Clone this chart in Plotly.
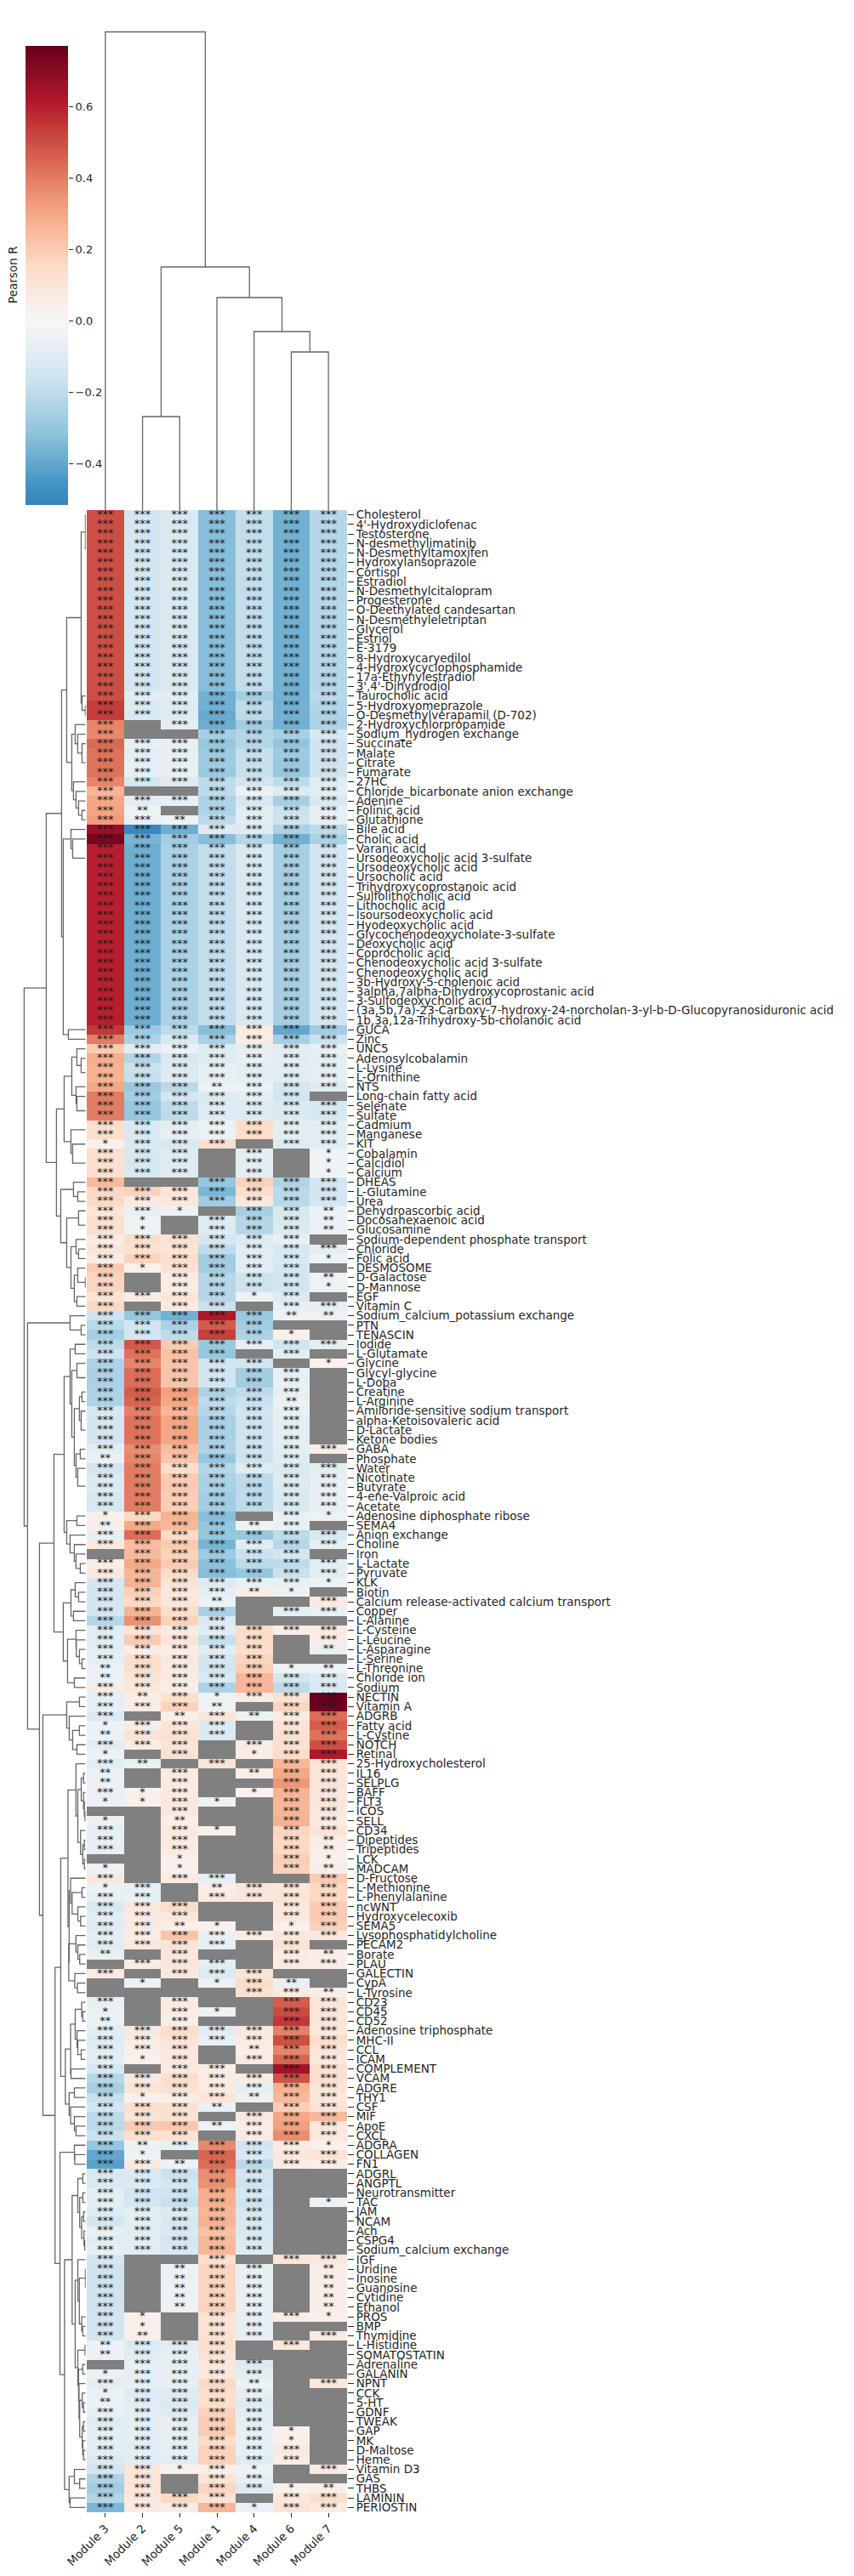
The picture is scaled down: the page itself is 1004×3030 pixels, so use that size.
import plotly.graph_objects as go

module_labels = ["Module 3", "Module 2", "Module 5", "Module 1", "Module 4", "Module 6", "Module 7"]

row_labels = [
    "Cholesterol", "4'-Hydroxydiclofenac", "Testosterone", "N-desmethylimatinib", "N-Desmethyltamoxifen",
    "Hydroxylansoprazole", "Cortisol", "Estradiol", "N-Desmethylcitalopram", "Progesterone",
    "O-Deethylated candesartan", "N-Desmethyleletriptan", "Glycerol", "Estriol", "E-3179",
    "8-Hydroxycaryedilol", "4-Hydroxycyclophosphamide", "17a-Ethynylestradiol", "3',4'-Dihydrodiol", "Taurocholic acid",
    "5-Hydroxyomeprazole", "O-Desmethylverapamil (D-702)", "2-Hydroxychlorpropamide", "Sodium_hydrogen exchange", "Succinate",
    "Malate", "Citrate", "Fumarate", "27HC", "Chloride_bicarbonate anion exchange",
    "Adenine", "Folinic acid", "Glutathione", "Bile acid", "Cholic acid",
    "Varanic acid", "Ursodeoxycholic acid 3-sulfate", "Ursodeoxycholic acid", "Ursocholic acid", "Trihydroxycoprostanoic acid",
    "Sulfolithocholic acid", "Lithocholic acid", "Isoursodeoxycholic acid", "Hyodeoxycholic acid", "Glycochenodeoxycholate-3-sulfate",
    "Deoxycholic acid", "Coprocholic acid", "Chenodeoxycholic acid 3-sulfate", "Chenodeoxycholic acid", "3b-Hydroxy-5-cholenoic acid",
    "3alpha,7alpha-Dihydroxycoprostanic acid", "3-Sulfodeoxycholic acid",
    "(3a,5b,7a)-23-Carboxy-7-hydroxy-24-norcholan-3-yl-b-D-Glucopyranosiduronic acid",
    "1b,3a,12a-Trihydroxy-5b-cholanoic acid", "GUCA",
    "Zinc", "UNC5", "Adenosylcobalamin", "L-Lysine", "L-Ornithine",
    "NTS", "Long-chain fatty acid", "Selenate", "Sulfate", "Cadmium",
    "Manganese", "KIT", "Cobalamin", "Calcidiol", "Calcium",
    "DHEAS", "L-Glutamine", "Urea", "Dehydroascorbic acid", "Docosahexaenoic acid",
    "Glucosamine", "Sodium-dependent phosphate transport", "Chloride", "Folic acid", "DESMOSOME",
    "D-Galactose", "D-Mannose", "EGF", "Vitamin C", "Sodium_calcium_potassium exchange",
    "PTN", "TENASCIN", "Iodide", "L-Glutamate", "Glycine",
    "Glycyl-glycine", "L-Dopa", "Creatine", "L-Arginine", "Amiloride-sensitive sodium transport",
    "alpha-Ketoisovaleric acid", "D-Lactate", "Ketone bodies", "GABA", "Phosphate",
    "Water", "Nicotinate", "Butyrate", "4-ene-Valproic acid", "Acetate",
    "Adenosine diphosphate ribose", "SEMA4", "Anion exchange", "Choline", "Iron",
    "L-Lactate", "Pyruvate", "KLK", "Biotin", "Calcium release-activated calcium transport",
    "Copper", "L-Alanine", "L-Cysteine", "L-Leucine", "L-Asparagine",
    "L-Serine", "L-Threonine", "Chloride ion", "Sodium", "NECTIN",
    "Vitamin A", "ADGRB", "Fatty acid", "L-Cystine", "NOTCH",
    "Retinal", "25-Hydroxycholesterol", "IL16", "SELPLG", "BAFF",
    "FLT3", "ICOS", "SELL", "CD34", "Dipeptides",
    "Tripeptides", "LCK", "MADCAM", "D-Fructose", "L-Methionine",
    "L-Phenylalanine", "ncWNT", "Hydroxycelecoxib", "SEMA5", "Lysophosphatidylcholine",
    "PECAM2", "Borate", "PLAU", "GALECTIN", "CypA",
    "L-Tyrosine", "CD23", "CD45", "CD52", "Adenosine triphosphate",
    "MHC-II", "CCL", "ICAM", "COMPLEMENT", "VCAM",
    "ADGRE", "THY1", "CSF", "MIF", "ApoE",
    "CXCL", "ADGRA", "COLLAGEN", "FN1", "ADGRL",
    "ANGPTL", "Neurotransmitter", "TAC", "JAM", "NCAM",
    "Ach", "CSPG4", "Sodium_calcium exchange", "IGF", "Uridine",
    "Inosine", "Guanosine", "Cytidine", "Ethanol", "PROS",
    "BMP", "Thymidine", "L-Histidine", "SOMATOSTATIN", "Adrenaline",
    "GALANIN", "NPNT", "CCK", "5-HT", "GDNF",
    "TWEAK", "GAP", "MK", "D-Maltose", "Heme",
    "Vitamin D3", "GAS", "THBS", "LAMININ", "PERIOSTIN",
]

N = None

# Pearson R per row, columns in the order of module_labels; None marks a non-significant cell.
pearson_r = [
    [.50, -.14, -.12, -.33, -.19, -.37, -.22], [.50, -.14, -.12, -.33, -.19, -.37, -.22],
    [.50, -.14, -.12, -.33, -.19, -.37, -.22], [.50, -.14, -.12, -.33, -.19, -.37, -.22],
    [.50, -.14, -.12, -.33, -.19, -.37, -.22], [.50, -.14, -.12, -.33, -.19, -.37, -.22],
    [.50, -.14, -.12, -.33, -.19, -.37, -.22], [.50, -.14, -.12, -.33, -.19, -.37, -.22],
    [.50, -.14, -.12, -.33, -.19, -.37, -.22], [.50, -.14, -.12, -.33, -.19, -.37, -.22],
    [.50, -.14, -.12, -.33, -.19, -.37, -.22], [.50, -.14, -.12, -.33, -.19, -.37, -.22],
    [.50, -.14, -.12, -.33, -.19, -.37, -.22], [.50, -.14, -.12, -.33, -.19, -.37, -.22],
    [.50, -.14, -.12, -.33, -.19, -.37, -.22], [.50, -.14, -.12, -.33, -.19, -.37, -.22],
    [.50, -.14, -.12, -.33, -.19, -.37, -.22], [.50, -.14, -.12, -.33, -.19, -.37, -.22],
    [.50, -.14, -.12, -.33, -.19, -.37, -.22],
    [.50, -.09, -.09, -.37, -.26, -.37, -.21],
    [.54, -.11, -.10, -.37, -.20, -.37, -.23],
    [.54, -.12, -.10, -.39, -.20, -.37, -.24],
    [.38, N, -.08, -.38, -.27, -.37, -.24],
    [.37, N, N, -.26, -.23, -.26, -.13],
    [.44, -.06, -.06, -.30, -.22, -.31, -.16],
    [.42, -.08, -.07, -.28, -.18, -.28, -.16],
    [.42, -.07, -.06, -.28, -.18, -.29, -.16],
    [.42, -.07, -.06, -.29, -.18, -.30, -.16],
    [.38, -.14, -.10, -.20, -.15, -.20, -.09],
    [.26, N, N, -.20, -.05, -.11, -.08],
    [.30, -.09, -.07, -.24, -.13, -.26, -.12],
    [.31, -.04, N, -.24, -.09, -.17, -.07],
    [.33, -.06, -.04, -.20, -.09, -.16, -.07],
    [.67, -.50, -.38, -.10, -.10, -.25, -.20],
    [.73, -.36, -.27, -.33, -.22, -.37, -.25],
    [.60, -.38, -.25, -.19, -.12, -.26, -.14], [.60, -.38, -.25, -.19, -.12, -.26, -.14],
    [.60, -.38, -.25, -.19, -.12, -.26, -.14], [.60, -.38, -.25, -.19, -.12, -.26, -.14],
    [.60, -.38, -.25, -.19, -.12, -.26, -.14], [.60, -.38, -.25, -.19, -.12, -.26, -.14],
    [.60, -.38, -.25, -.19, -.12, -.26, -.14], [.60, -.38, -.25, -.19, -.12, -.26, -.14],
    [.60, -.38, -.25, -.19, -.12, -.26, -.14], [.60, -.38, -.25, -.19, -.12, -.26, -.14],
    [.60, -.38, -.25, -.19, -.12, -.26, -.14], [.60, -.38, -.25, -.19, -.12, -.26, -.14],
    [.60, -.38, -.25, -.19, -.12, -.26, -.14], [.60, -.38, -.25, -.19, -.12, -.26, -.14],
    [.60, -.38, -.25, -.19, -.12, -.26, -.14], [.60, -.38, -.25, -.19, -.12, -.26, -.14],
    [.60, -.38, -.25, -.19, -.12, -.26, -.14], [.60, -.38, -.25, -.19, -.12, -.26, -.14],
    [.60, -.38, -.25, -.19, -.12, -.26, -.14],
    [.55, -.28, -.20, -.33, .07, -.40, -.27],
    [.40, -.24, -.12, -.25, .06, -.26, -.17],
    [.20, -.09, -.05, -.10, -.07, -.09, -.06],
    [.28, -.23, -.13, -.10, -.06, -.09, -.08],
    [.27, -.17, -.10, -.07, -.08, -.09, -.07],
    [.27, -.18, -.10, -.07, -.08, -.09, -.07],
    [.30, -.29, -.21, -.04, -.05, -.14, -.10],
    [.40, -.27, -.15, -.11, -.08, -.15, N],
    [.40, -.30, -.20, -.10, -.10, -.11, -.13],
    [.40, -.30, -.20, -.10, -.10, -.11, -.13],
    [.13, -.12, -.08, -.05, .15, -.08, -.08],
    [.13, -.12, -.07, -.05, .14, -.08, -.08],
    [.04, -.12, -.12, .13, N, -.10, -.09],
    [.13, -.13, -.10, N, -.08, N, -.03],
    [.13, -.13, -.10, N, -.08, N, -.03],
    [.13, -.13, -.10, N, -.08, N, -.03],
    [.25, N, N, -.30, .18, -.24, -.14],
    [.16, .18, .10, -.35, .14, -.21, -.14],
    [.16, .07, .08, -.27, .08, -.21, -.14],
    [.10, -.06, -.04, N, -.26, -.13, -.05],
    [.13, -.04, N, -.10, -.22, -.12, -.05],
    [.13, -.04, N, -.10, -.22, -.11, -.05],
    [.06, .14, .12, -.14, -.10, -.07, N],
    [.10, .13, .11, -.20, -.09, -.13, -.08],
    [.06, .18, .14, -.27, -.09, -.12, -.04],
    [.20, .04, .12, -.27, -.09, -.14, N],
    [.17, N, .06, -.22, -.16, -.14, -.05],
    [.17, N, .06, -.22, -.16, -.14, -.04],
    [.11, .06, .10, -.22, -.04, -.11, N],
    [.16, N, .07, -.17, N, -.07, -.07],
    [-.16, -.30, -.37, .62, -.29, -.05, -.05],
    [-.21, -.15, -.25, .47, -.27, N, N],
    [-.26, -.14, -.20, .53, -.24, .04, N],
    [-.20, .48, .20, -.29, -.07, -.15, -.08],
    [-.16, .42, .23, -.30, N, -.08, N],
    [-.24, .38, .22, -.15, -.15, N, .04],
    [-.25, .43, .22, -.15, -.27, -.07, N],
    [-.25, .43, .22, -.15, -.27, -.06, N],
    [-.24, .47, .32, -.24, -.20, -.07, N],
    [-.24, .45, .30, -.20, -.17, -.05, N],
    [-.13, .39, .26, -.22, -.15, -.07, N],
    [-.14, .42, .30, -.25, -.16, -.08, N],
    [-.14, .42, .30, -.25, -.16, -.08, N],
    [-.14, .42, .30, -.25, -.16, -.08, N],
    [-.08, .36, .24, -.24, -.16, -.08, .05],
    [-.05, .38, .22, -.30, -.16, -.09, N],
    [-.15, .40, .14, -.22, -.10, -.12, -.08],
    [-.11, .40, .20, -.25, -.20, -.11, -.06],
    [-.11, .40, .20, -.25, -.20, -.11, -.06],
    [-.13, .40, .19, -.27, -.20, -.12, -.06],
    [-.13, .40, .19, -.27, -.20, -.12, -.06],
    [.04, .16, .27, -.33, N, -.06, -.04],
    [.05, .30, .25, -.30, -.04, -.06, N],
    [-.07, .43, .15, -.30, -.30, -.20, -.12],
    [.08, .24, .20, -.36, -.09, -.22, -.07],
    [N, .25, .18, -.28, -.17, -.14, N],
    [.05, .30, .20, -.32, -.21, -.20, -.08],
    [.08, .26, .15, -.33, -.30, -.17, -.08],
    [-.14, .27, .11, -.10, -.06, -.06, -.04],
    [-.14, .19, .08, -.07, .05, -.04, N],
    [-.14, .16, .10, -.05, N, N, .07],
    [-.14, .27, .14, -.25, N, -.07, -.06],
    [-.22, .35, .18, -.11, N, N, N],
    [-.09, .11, .07, -.09, .15, .05, .07],
    [-.09, .20, .10, -.18, .15, N, .06],
    [-.08, .07, .05, -.09, .14, N, -.06],
    [-.07, .14, .08, -.14, .17, N, N],
    [-.05, .14, .07, -.15, .19, -.04, -.04],
    [-.05, .10, .07, -.12, .26, -.14, -.10],
    [.06, .09, .05, -.24, .26, -.20, -.12],
    [-.07, .05, .13, -.04, .06, .12, .77],
    [-.07, .06, .18, -.04, N, .17, .76],
    [-.11, N, .05, .10, -.05, .07, .43],
    [-.04, .06, .10, -.11, N, .11, .47],
    [-.05, .11, .12, -.11, N, .12, .42],
    [-.09, .06, .10, N, .06, .12, .50],
    [-.05, N, .12, N, .05, .15, .62],
    [-.09, -.06, N, .10, N, .26, .11],
    [-.05, N, .07, N, .05, .30, .10],
    [-.05, N, .07, N, N, .34, .10],
    [-.06, .04, .07, N, .04, .27, .08],
    [-.05, .04, .08, -.04, N, .26, .10],
    [N, N, .08, N, N, .26, .08],
    [-.05, N, .05, N, N, .27, .07],
    [-.07, N, .07, .04, N, .17, .11],
    [-.07, N, .07, N, N, .16, .05],
    [-.07, N, .07, N, N, .16, .05],
    [N, N, .04, N, N, .19, .04],
    [-.05, N, .04, N, N, .18, .05],
    [.08, N, .07, -.07, N, N, .20],
    [-.05, -.06, N, .05, .10, .09, .16],
    [-.07, -.06, N, .07, .09, .10, .16],
    [-.12, .09, .15, N, N, .08, .20],
    [-.08, .07, .08, N, N, .09, .20],
    [-.10, .07, .05, .04, N, .04, .18],
    [-.08, .06, .22, -.06, .06, .08, .08],
    [-.09, .08, .11, -.07, N, .11, N],
    [-.06, N, .09, N, N, .06, .05],
    [N, .06, .10, -.08, N, .07, .05],
    [.07, N, .08, -.11, .11, N, N],
    [N, -.05, N, -.05, .15, -.06, N],
    [N, N, N, N, .12, .07, .05],
    [-.06, N, .07, N, N, .47, .10],
    [-.05, N, .07, -.05, N, .51, .10],
    [-.05, N, .05, N, N, .55, .10],
    [-.08, .08, .15, -.09, .08, .39, .09],
    [-.10, .07, .11, -.06, .07, .50, .14],
    [-.09, .05, .09, N, .05, .38, .10],
    [-.08, .04, .08, N, .07, .45, .08],
    [-.13, N, .07, .05, N, .65, .12],
    [-.22, .08, .14, .05, .06, .49, .13],
    [-.26, .11, .12, .07, -.07, .27, .10],
    [-.18, .04, .05, .10, -.05, .25, .09],
    [-.14, .14, .12, -.05, N, .19, .11],
    [-.20, .11, .12, N, .08, .30, .25],
    [-.21, .20, .21, -.05, .05, .32, .09],
    [-.17, .13, .12, N, .07, .36, .08],
    [-.30, -.05, -.07, .37, -.15, .07, .04],
    [-.40, -.04, N, .45, -.12, .09, .11],
    [-.42, .08, -.05, .43, -.21, .06, .05],
    [-.13, -.12, -.17, .36, -.15, N, N],
    [-.12, -.11, -.14, .35, -.16, N, N],
    [-.08, -.15, -.16, .28, -.13, N, N],
    [-.08, -.14, -.18, .28, -.16, N, -.05],
    [-.10, -.08, -.11, .26, -.13, N, N],
    [-.14, -.08, -.13, .27, -.13, N, N],
    [-.07, -.09, -.12, .23, -.12, N, N],
    [-.09, -.09, -.14, .25, -.11, N, N],
    [-.07, -.09, -.12, .26, -.10, N, N],
    [-.14, N, N, .13, N, .10, .08],
    [-.16, N, -.05, .17, -.06, N, .05],
    [-.16, N, -.05, .17, -.06, N, .05],
    [-.16, N, -.05, .17, -.06, N, .05],
    [-.16, N, -.05, .17, -.06, N, .05],
    [-.16, N, -.05, .18, -.06, N, .05],
    [-.15, .04, N, .11, -.07, .06, .04],
    [-.15, .04, N, .11, -.07, N, N],
    [-.15, .05, N, .12, -.07, N, .07],
    [-.05, -.11, -.09, .13, N, .09, N],
    [-.05, -.09, -.07, .11, N, N, N],
    [N, -.06, -.07, .08, -.10, N, N],
    [-.05, -.07, -.07, .09, -.08, N, N],
    [-.08, -.07, -.07, .16, -.05, N, .09],
    [-.05, -.10, -.10, .14, -.07, N, N],
    [-.05, -.09, -.11, .14, -.10, N, N],
    [-.07, -.08, -.10, .18, -.08, N, N],
    [-.10, -.08, -.07, .19, -.08, N, N],
    [-.08, -.08, -.07, .20, -.07, .04, N],
    [-.08, -.08, -.07, .15, -.07, .04, N],
    [-.09, -.08, -.07, .18, -.07, .08, N],
    [-.11, -.09, -.09, .18, -.10, .06, N],
    [-.15, .10, .04, .05, -.04, N, .07],
    [-.24, .11, N, .11, -.07, N, N],
    [-.27, .10, N, .17, -.10, .04, .05],
    [-.23, .08, .16, .11, N, .08, .14],
    [-.35, .07, .06, .26, -.05, .11, .07],
]

# Number of asterisks per cell, one digit per module; 0 leaves the cell empty.
star_counts = [
    "3333333", "3333333", "3333333", "3333333", "3333333", "3333333", "3333333", "3333333", "3333333", "3333333",
    "3333333", "3333333", "3333333", "3333333", "3333333", "3333333", "3333333", "3333333", "3333333", "3333333",
    "3333333", "3333333", "3033333", "3003333", "3333333", "3333333", "3333333", "3333333", "3333333", "3003333",
    "3333333", "3203333", "3323333", "3333333", "3333333", "3333333", "3333333", "3333333", "3333333", "3333333",
    "3333333", "3333333", "3333333", "3333333", "3333333", "3333333", "3333333", "3333333", "3333333", "3333333",
    "3333333", "3333333", "3333333", "3333333", "3333333", "3333333", "3333333", "3333333", "3333333", "3333333",
    "3332333", "3333330", "3333333", "3333333", "3333333", "3333333", "1333033", "3330301", "3330301", "3330301",
    "3003333", "3333333", "3333333", "3310332", "3103332", "3103332", "3333330", "3333333", "3333331", "3133330",
    "3033332", "3033331", "3333130", "3033033", "3333322", "3333300", "3333310", "3333333", "3333030", "3333301",
    "3333330", "3333330", "3333330", "3333320", "3333330", "3333330", "3333330", "3333330", "3333333", "2333330",
    "3333333", "3333333", "3333333", "3333333", "3333333", "1333031", "2333230", "3333333", "3333333", "0333330",
    "3333333", "3333333", "3333331", "3333210", "3332003", "3333033", "3333000", "3333333", "3333303", "3333302",
    "3333300", "2333312", "2333333", "3333333", "3231333", "3332033", "3023233", "1333033", "2333033", "3330333",
    "1030133", "3203033", "2030233", "2030033", "3130133", "1131033", "0030033", "1020033", "3031033", "3030032",
    "3030032", "0010031", "1010032", "3033003", "1302333", "3303333", "3330033", "3330033", "3321013", "3333333",
    "3333030", "2030032", "0333033", "3033300", "0101320", "0000332", "3030033", "1031033", "2030033", "3333333",
    "3333333", "3330233", "3130333", "3033033", "3333333", "3333333", "3133233", "3332033", "3330333", "3332333",
    "3330333", "3233331", "3103333", "3323333", "3333300", "3333300", "3333300", "3333301", "3333300", "3333300",
    "3333300", "3333300", "3333300", "3003033", "3023302", "3023302", "3023302", "3023302", "3023302", "3103331",
    "3103300", "3203303", "2333030", "2333000", "0333300", "1333300", "3333203", "1333300", "2333300", "3333300",
    "3333300", "3333310", "3333310", "3333330", "3333330", "3313103", "3303300", "3303312", "3333033", "3333133",
]

# Colour-bar ticks and the data range shown on it.
r_min, r_max = -0.516, 0.77
cbar_ticks = [-0.4, -0.2, 0.0, 0.2, 0.4, 0.6]

# Merge trees: (distance, upper child, lower child). An integer child is that
# many neighbouring leaves joined at distance zero.
column_tree = (562.5, 1, (286, (110, 1, 1), (250, 1, (210, 1, (186, 1, 1)))))


def comb(n):
    """n leaves joined one after another at distance zero."""
    return 1 if n == 1 else (0, 1, comb(n - 1))


steroids = (5.3, (0.3, 1, (0, 1, (0, 1, 16))), (4.3, 1, (0.3, 1, 1)))
organic_acids = (16.3, (12.3, 1, (9.3, 1, (4.3, 1, 3))), (14.3, 1, (11.3, 1, (8.3, 1, (4.3, 1, 1)))))
bile_acids = (17.3, 1, (15.3, 1, comb(19)))
guca_zinc = (20.3, 1, 1)
upper_metabolites = (28.3, (22.3, steroids, organic_acids), (26.3, bile_acids, guca_zinc))

cofactors = (25.3,
             (16.3, (10.3, 1, (5.3, 1, 2)), (11.3, 1, (10.3, 1, 2))),
             (17.3, 2, (15.3, 1, 3)))
sugars_and_more = (29.3,
                   (14.3, 1, (9.3, 1, 1)),
                   (22.3, (8.3, 1, 2),
                    (17.3, (11.3, 1, (8.3, 1, 1)),
                     (13.3, (9.3, 1, (0.3, 1, 1)), (10.3, 1, 1)))))
metabolites = (46.3, upper_metabolites, (34.3, cofactors, sugars_and_more))

exchange_ptn = (18.3, 1, (5.3, 1, 1))

iodide_to_acetate = (18.3, (12.3, 1, 1),
                     (16.3, (10.3, 1, 2),
                      (13.3, (7.3, (4.3, 1, 1), (5.3, 1, 3)),
                       (11.3, (6.3, 1, 1), (9.3, 1, comb(4))))))
ribose_to_pyruvate = (22.3, (10.3, 1, 1), (18.3, 1, (13.3, 1, (11.3, 1, (6.3, 1, 1)))))
klk_to_alanine = (17.3, (12.3, 1, (8.3, 1, 1)), (14.3, 1, 1))
cysteine_to_sodium = (21.3, (11.3, 1, (11.0, 1, (7.3, 1, (4.3, 1, 1)))), (13.3, 1, 1))
module2_group = (37.3, (25.3, iodide_to_acetate, ribose_to_pyruvate), (26.3, klk_to_alanine, cysteine_to_sodium))

nectin_group = (22.3, (7.3, 1, 1), (19.3, 1, (15.3, (7.3, 1, 1), (10.3, 1, 1))))
lymphocyte_group = (11.4, 1, (9.2,
                              (5.2, (2.5, 1, 1), (2.5, 1, (1.5, 1, (0.7, 1, 1)))),
                              (6.0, 1, (3.4, (1.5, 1, 1), (1.5, 1, 1)))))
fructose_group = (17.7, 1, (15.9, (4.3, 1, 1), (9.2, 1, (6.0, 1, 1))))
lyso_group = (19.9, (11.4, 1, (9.2, 1, (7.0, 1, 1))), (12.8, 1, (9.6, 1, 1)))
immune_left = (20.8, lymphocyte_group, (19.4, fructose_group, lyso_group))
cd_group = (17.7,
            (12.3, (4.7, 1, (3.4, 1, 1)), (10.1, 1, (9.2, 1, (5.2, 1, 1)))),
            (17.2, 1, 1))
adgre_group = (19.4, (13.2, 1, 1), (17.7, 1, (13.2, 1, (11.4, 1, 1))))
immune = (29.3, immune_left, (23.9, cd_group, adgre_group))

adgra_group = (13.2, 1, (12.8, 1, 1))
adgrl_group = (9.2, (3.4, 1, 1), (7.0, (3.4, 1, 1), (4.7, (2.5, 1, 1), (2.0, 1, (1.0, 1, 1)))))
igf_group = (9.2, 1, (7.4, (0.3, 1, comb(4)), (4.7, 1, (3.4, 1, 1))))
histidine_group = (9.2, (0.7, 1, 1),
                   (8.3, (3.4, 1, 1),
                    (7.8, 1, (7.0, (4.0, 1, (2.5, 1, 1)),
                              (4.0, (2.5, 1, 1), (3.4, 1, (2.5, 1, 1)))))))
module1_group = (24.8,
                 (15.9, adgrl_group, (12.3, igf_group, histidine_group)),
                 (19.4, (13.2, 1, (7.0, 1, 1)), (18.2, 1, 1)))
matrix_group = (36.0, immune, (30.2, adgra_group, module1_group))

row_tree = (72.3, metabolites,
            (68.3, exchange_ptn,
             (54.3, module2_group, (50.3, nectin_group, matrix_group))))

# Page geometry in pixels.
PAGE_W, PAGE_H = 1004, 3030
HEAT_L, HEAT_R, HEAT_T, HEAT_B = 102, 408, 600, 2955
ROW_DENDRO_R = 100.7
COL_DENDRO_T = 30
CBAR_L, CBAR_R, CBAR_T, CBAR_B = 30, 80, 54, 594
TEXT = "#262626"
STARS = "#1a1a1a"
TREE = "#666666"
TREE_WIDTH = 1.3
FONT = "DejaVu Sans"
LEVELS = 256


def xdom(a, b):
    return [a / PAGE_W, b / PAGE_W]


def ydom(top, bottom):
    return [1 - bottom / PAGE_H, 1 - top / PAGE_H]


def truncated_rdbu():
    """RdBu_r centred on zero, cut to the range of the data."""
    anchors = ["#053061", "#2166ac", "#4393c3", "#92c5de", "#d1e5f0", "#f7f7f7",
               "#fddbc7", "#f4a582", "#d6604d", "#b2182b", "#67001f"]
    half = max(abs(r_min), abs(r_max))
    lo = (r_min + half) / (2 * half)
    hi = (r_max + half) / (2 * half)

    def rgb(h):
        return [int(h[i:i + 2], 16) for i in (1, 3, 5)]

    def at(p):
        i = min(int(p * 10), 9)
        t = p * 10 - i
        a, b = rgb(anchors[i]), rgb(anchors[i + 1])
        return "rgb(%d,%d,%d)" % tuple(round(u + (v - u) * t) for u, v in zip(a, b))

    stops = [lo] + [k / 10 for k in range(11) if lo < k / 10 < hi] + [hi]
    return [[(p - lo) / (hi - lo), at(p)] for p in stops]


def tree_segments(tree):
    """Walk a merge tree and return line coordinates along (position, distance)."""
    pos, dist = [], []
    cursor = [0.0]

    def visit(node):
        if isinstance(node, int):
            start = cursor[0]
            cursor[0] += node
            return start + node / 2, 0.0
        d, upper, lower = node
        p1, d1 = visit(upper)
        p2, d2 = visit(lower)
        if d > 0:
            pos.extend([p1, p1, p2, p2, None])
            dist.extend([d1, d, d, d2, None])
        return (p1 + p2) / 2, d

    visit(tree)
    return pos, dist


columns = list(range(len(module_labels)))
rows = list(range(len(row_labels)))
cell_x = [c + 0.5 for c in columns]
cell_y = [r + 0.5 for r in rows]

z = [[None if star_counts[r][c] == "0" else pearson_r[r][c] for c in columns] for r in rows]

# Significance marks are a text layer over the occupied cells.
star_x = [cell_x[c] for r in rows for c in columns if star_counts[r][c] != "0"]
star_y = [cell_y[r] for r in rows for c in columns if star_counts[r][c] != "0"]
star_text = ["*" * int(star_counts[r][c]) for r in rows for c in columns if star_counts[r][c] != "0"]

scale = truncated_rdbu()
fig = go.Figure()

fig.add_trace(go.Heatmap(
    x=cell_x, y=cell_y, z=z,
    zmin=r_min, zmax=r_max, colorscale=scale, showscale=False,
    hoverongaps=False, xaxis="x", yaxis="y",
))

fig.add_trace(go.Scatter(
    x=star_x, y=star_y, text=star_text, mode="text", textposition="middle center",
    textfont=dict(family=FONT, size=13, color=STARS),
    hoverinfo="skip", showlegend=False, xaxis="x", yaxis="y",
))

row_pos, row_dist = tree_segments(row_tree)
fig.add_trace(go.Scatter(x=row_dist, y=row_pos, mode="lines", xaxis="x2", yaxis="y2",
                         line=dict(color=TREE, width=TREE_WIDTH), hoverinfo="skip", showlegend=False))

col_pos, col_dist = tree_segments(column_tree)
fig.add_trace(go.Scatter(x=col_pos, y=col_dist, mode="lines", xaxis="x3", yaxis="y3",
                         line=dict(color=TREE, width=TREE_WIDTH), hoverinfo="skip", showlegend=False))

# Colour key: a one-column heatmap running over the data range.
key_step = (r_max - r_min) / LEVELS
key_y = [r_min + (k + 0.5) * key_step for k in range(LEVELS)]
fig.add_trace(go.Heatmap(
    x=[0], y=key_y, z=[[v] for v in key_y],
    zmin=r_min, zmax=r_max, colorscale=scale, showscale=False,
    hoverinfo="skip", xaxis="x4", yaxis="y4",
))

fig.update_layout(
    template="none",
    width=PAGE_W, height=PAGE_H, autosize=False,
    margin=dict(l=0, r=0, t=0, b=0, pad=0), paper_bgcolor="white", plot_bgcolor="white",
    font=dict(family=FONT, size=13.5, color=TEXT),
    xaxis=dict(domain=xdom(HEAT_L, HEAT_R), range=[0, len(columns)], anchor="y", side="bottom",
               automargin=False,
               tickmode="array", tickvals=cell_x, ticktext=module_labels, tickangle=-45,
               ticks="outside", ticklen=5, tickwidth=1, tickcolor=TEXT,
               tickfont=dict(family=FONT, size=13.5, color=TEXT),
               showgrid=False, zeroline=False, showline=False),
    yaxis=dict(domain=ydom(HEAT_T, HEAT_B), range=[len(rows), 0], anchor="x", side="right",
               automargin=False,
               tickmode="array", tickvals=cell_y, ticktext=row_labels,
               ticks="outside", ticklen=7, tickwidth=1, tickcolor=TEXT,
               tickfont=dict(family=FONT, size=13.5, color=TEXT),
               showgrid=False, zeroline=False, showline=False),
    xaxis2=dict(domain=xdom(0, ROW_DENDRO_R), range=[ROW_DENDRO_R, 0], anchor="y2",
                automargin=False, visible=False),
    yaxis2=dict(domain=ydom(HEAT_T, HEAT_B), range=[len(rows), 0], anchor="x2",
                automargin=False, visible=False),
    xaxis3=dict(domain=xdom(HEAT_L, HEAT_R), range=[0, len(columns)], anchor="y3",
                automargin=False, visible=False),
    yaxis3=dict(domain=ydom(COL_DENDRO_T, HEAT_T), range=[0, HEAT_T - COL_DENDRO_T], anchor="x3",
                automargin=False, visible=False),
    xaxis4=dict(domain=xdom(CBAR_L, CBAR_R), anchor="y4", automargin=False, visible=False),
    yaxis4=dict(domain=ydom(CBAR_T, CBAR_B), range=[r_min, r_max], anchor="x4", side="right",
                automargin=False,
                tickmode="array", tickvals=cbar_ticks, tickformat=".1f",
                ticks="outside", ticklen=5, tickwidth=1, tickcolor=TEXT,
                tickfont=dict(family=FONT, size=13, color=TEXT),
                showgrid=False, zeroline=False, showline=False),
    shapes=[dict(type="rect", xref="x domain", yref="y domain", x0=0, x1=1, y0=0, y1=1,
                 fillcolor="#808080", line=dict(width=0), layer="below")],
    annotations=[dict(text="Pearson R", xref="paper", yref="paper",
                      x=15 / PAGE_W, y=1 - (CBAR_T + CBAR_B) / 2 / PAGE_H,
                      textangle=-90, showarrow=False, xanchor="center", yanchor="middle",
                      font=dict(family=FONT, size=13.5, color=TEXT))],
)

fig.write_html("out.html", config={"displayModeBar": False})
